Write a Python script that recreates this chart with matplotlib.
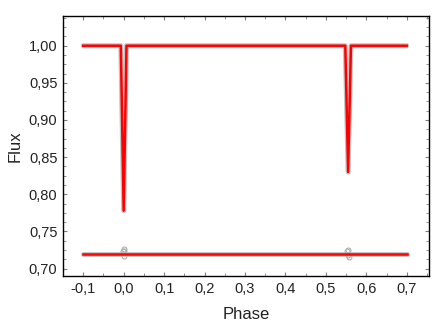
import matplotlib
matplotlib.use("Agg")
import matplotlib.pyplot as plt
from matplotlib.ticker import MultipleLocator, FuncFormatter

plt.rcParams['font.family'] = ['Liberation Sans', 'DejaVu Sans']

# model light curve (knots)
model_phase = [-0.1, -0.007, 0.0, 0.007, 0.548, 0.555, 0.562, 0.7]
model_flux = [1.0, 1.0, 0.778, 1.0, 1.0, 0.830, 1.0, 1.0]

# residuals, shifted to 0.72
resid_phase = [-0.1, 0.7]
resid_flux = [0.72, 0.72]
# scatter of residual points inside the eclipses
scatter_phase = [-0.002, 0.0, 0.002, 0.0, 0.553, 0.555, 0.557, 0.555]
scatter_flux = [0.724, 0.726, 0.723, 0.717, 0.723, 0.725, 0.716, 0.718]

fig = plt.figure(figsize=(4.36, 3.27), dpi=100)
ax = fig.add_axes([63/436, 1 - 276/327, (429-63)/436, (276-16)/327])

# observed points drawn as a grey band under the model
ax.plot(model_phase, model_flux, color='#c4c4c4', lw=3.6, solid_capstyle='round')
ax.plot(resid_phase, resid_flux, color='#c4c4c4', lw=3.6, solid_capstyle='round')
ax.plot(scatter_phase, scatter_flux, 'o', mfc='none', mec='#b0b0b0', ms=3.5, mew=0.8)

ax.plot(model_phase, model_flux, color='red', lw=1.8)
ax.plot(resid_phase, resid_flux, color='red', lw=1.8)

ax.set_xlim(-0.15, 0.755)
ax.set_ylim(0.69, 1.04)
ax.xaxis.set_major_locator(MultipleLocator(0.1))
ax.yaxis.set_major_locator(MultipleLocator(0.05))
ax.xaxis.set_minor_locator(MultipleLocator(0.05))
ax.yaxis.set_minor_locator(MultipleLocator(0.0125))
ax.xaxis.set_major_formatter(FuncFormatter(lambda v, p: f"{v:.1f}".replace('.', ',').replace('-0,0', '0,0')))
ax.yaxis.set_major_formatter(FuncFormatter(lambda v, p: f"{v:.2f}".replace('.', ',')))

ax.tick_params(which='both', direction='in', top=True, right=True, color='#808080',
               labelcolor='#222222')
ax.tick_params(which='major', length=3, labelsize=10.5, pad=4)
ax.tick_params(which='minor', length=2)
for s in ax.spines.values():
    s.set_linewidth(1.0)

ax.set_xlabel('Phase', fontsize=12, color='#222222')
ax.set_ylabel('Flux', fontsize=12, color='#222222')
ax.xaxis.set_label_coords(0.5, -0.12)
ax.yaxis.set_label_coords(-0.11, 0.5)

fig.savefig('out.png', dpi=100)
